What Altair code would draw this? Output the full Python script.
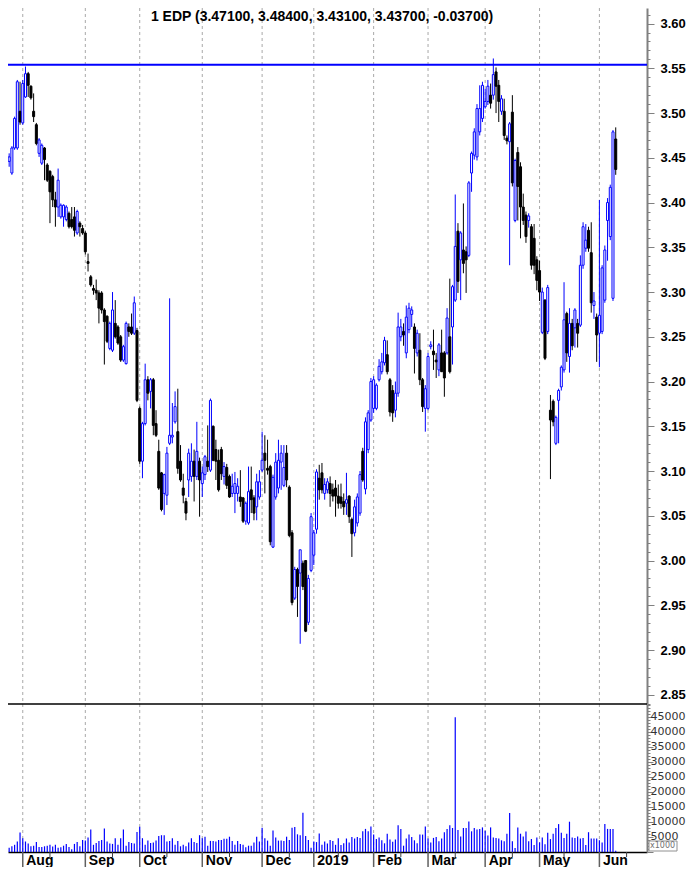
import altair as alt
import pandas as pd

# ---------------- data ----------------
opens = [
    # Jul 2018
    3.461, 3.448, 3.459, 3.446, 3.433, 3.461, 3.461, 3.502,
    # Aug
    3.489, 3.518, 3.544, 3.530, 3.502, 3.487, 3.455, 3.444, 3.461, 3.442, 3.435, 3.429,
    3.403, 3.395, 3.384, 3.384, 3.381, 3.388, 3.381, 3.384, 3.366, 3.377, 3.371,
    # Sep
    3.366, 3.334, 3.317, 3.304, 3.302, 3.299, 3.299, 3.280, 3.273, 3.237, 3.235, 3.265,
    3.261, 3.250, 3.224, 3.220, 3.261, 3.261, 3.254, 3.257,
    # Oct
    3.170, 3.111, 3.153, 3.202, 3.189, 3.202, 3.153, 3.122, 3.098, 3.075, 3.073, 3.131,
    3.138, 3.155, 3.144, 3.111, 3.081, 3.066, 3.090, 3.094, 3.111, 3.094, 3.111,
    # Nov
    3.086, 3.096, 3.111, 3.101, 3.150, 3.124, 3.112, 3.124, 3.094, 3.104, 3.094, 3.075,
    3.075, 3.075, 3.071, 3.070, 3.044, 3.042, 3.079, 3.070, 3.060, 3.071,
    # Dec
    3.101, 3.120, 3.103, 3.105, 3.015, 3.071, 3.081, 3.110, 3.084, 3.120, 3.082, 3.031,
    2.958, 2.990, 2.986, 2.997, 3.000, 2.931, 2.989,
    # Jan 2019
    3.006, 3.035, 3.092, 3.098, 3.075, 3.079, 3.086, 3.079, 3.081, 3.072, 3.071, 3.066,
    3.064, 3.072, 3.046, 3.031, 3.042, 3.053, 3.122, 3.080, 3.124, 3.157,
    # Feb
    3.170, 3.170, 3.202, 3.211, 3.221, 3.230, 3.202, 3.190, 3.168, 3.187, 3.250, 3.256,
    3.232, 3.258, 3.275, 3.261, 3.232, 3.235, 3.202, 3.170,
    # Mar
    3.170, 3.239, 3.234, 3.224, 3.213, 3.232, 3.232, 3.232, 3.250, 3.261, 3.291, 3.368,
    3.336, 3.347, 3.345, 3.341, 3.433, 3.453, 3.451, 3.479, 3.494,
    # Apr
    3.507, 3.513, 3.520, 3.520, 3.546, 3.531, 3.502, 3.502, 3.472, 3.468, 3.501, 3.380,
    3.456, 3.440, 3.395, 3.386, 3.380, 3.373, 3.360, 3.336,
    # May
    3.324, 3.255, 3.291, 3.256, 3.168, 3.178, 3.131, 3.179, 3.194, 3.213, 3.276, 3.228,
    3.265, 3.260, 3.265, 3.263, 3.330, 3.349, 3.369, 3.344, 3.285, 3.272,
    # Jun
    3.254, 3.256, 3.291, 3.380, 3.362, 3.293, 3.471,
]
highs = [
    3.464, 3.472, 3.463, 3.455, 3.463, 3.496, 3.537, 3.535,
    3.537, 3.552, 3.546, 3.531, 3.522, 3.489, 3.472, 3.466, 3.462, 3.444, 3.436, 3.431,
    3.412, 3.438, 3.399, 3.398, 3.397, 3.390, 3.395, 3.395, 3.392, 3.379, 3.375,
    3.368, 3.343, 3.319, 3.308, 3.314, 3.302, 3.301, 3.282, 3.274, 3.267, 3.300, 3.291,
    3.263, 3.252, 3.241, 3.267, 3.265, 3.276, 3.295, 3.260,
    3.172, 3.155, 3.220, 3.206, 3.204, 3.204, 3.168, 3.135, 3.099, 3.097, 3.127, 3.293,
    3.176, 3.189, 3.192, 3.129, 3.097, 3.070, 3.125, 3.131, 3.124, 3.155, 3.115,
    3.105, 3.118, 3.151, 3.181, 3.151, 3.135, 3.124, 3.127, 3.110, 3.108, 3.096, 3.097,
    3.099, 3.092, 3.101, 3.071, 3.066, 3.105, 3.105, 3.073, 3.097, 3.101,
    3.144, 3.140, 3.135, 3.107, 3.096, 3.120, 3.135, 3.129, 3.129, 3.129, 3.084, 3.034,
    2.993, 2.992, 3.012, 3.000, 3.000, 2.984, 3.053,
    3.034, 3.102, 3.107, 3.109, 3.092, 3.092, 3.094, 3.086, 3.090, 3.085, 3.086, 3.075,
    3.098, 3.073, 3.048, 3.068, 3.075, 3.100, 3.126, 3.160, 3.168, 3.204,
    3.206, 3.198, 3.225, 3.232, 3.250, 3.246, 3.204, 3.196, 3.200, 3.277, 3.270, 3.265,
    3.285, 3.288, 3.284, 3.265, 3.258, 3.254, 3.204, 3.196,
    3.232, 3.245, 3.258, 3.232, 3.243, 3.258, 3.234, 3.282, 3.315, 3.308, 3.409, 3.377,
    3.368, 3.399, 3.351, 3.424, 3.457, 3.483, 3.510, 3.531, 3.535,
    3.527, 3.537, 3.533, 3.561, 3.551, 3.537, 3.520, 3.516, 3.475, 3.490, 3.520, 3.449,
    3.462, 3.445, 3.410, 3.390, 3.388, 3.376, 3.376, 3.340,
    3.335, 3.305, 3.292, 3.308, 3.185, 3.180, 3.162, 3.192, 3.218, 3.311, 3.278, 3.282,
    3.270, 3.282, 3.270, 3.341, 3.378, 3.376, 3.373, 3.378, 3.300, 3.276,
    3.403, 3.330, 3.352, 3.405, 3.420, 3.481, 3.484,
]
lows = [
    3.410, 3.429, 3.423, 3.440, 3.431, 3.459, 3.459, 3.487,
    3.487, 3.517, 3.518, 3.515, 3.490, 3.464, 3.451, 3.442, 3.425, 3.423, 3.377, 3.395,
    3.373, 3.384, 3.382, 3.373, 3.379, 3.371, 3.371, 3.362, 3.364, 3.362, 3.364,
    3.342, 3.323, 3.306, 3.297, 3.291, 3.265, 3.276, 3.219, 3.243, 3.235, 3.233, 3.248,
    3.241, 3.222, 3.222, 3.219, 3.250, 3.252, 3.252, 3.177,
    3.108, 3.092, 3.151, 3.179, 3.170, 3.140, 3.138, 3.079, 3.055, 3.051, 3.062, 3.129,
    3.131, 3.153, 3.097, 3.088, 3.064, 3.045, 3.071, 3.088, 3.066, 3.090, 3.049,
    3.071, 3.090, 3.099, 3.099, 3.111, 3.090, 3.077, 3.090, 3.085, 3.080, 3.070, 3.071,
    3.053, 3.066, 3.060, 3.042, 3.040, 3.040, 3.053, 3.045, 3.045, 3.068,
    3.099, 3.075, 3.096, 3.017, 3.014, 3.068, 3.075, 3.079, 3.082, 3.082, 3.026, 2.950,
    2.956, 2.937, 2.907, 2.967, 2.920, 2.928, 2.987,
    2.995, 3.030, 3.068, 3.075, 3.068, 3.075, 3.060, 3.066, 3.049, 3.058, 3.058, 3.051,
    3.051, 3.042, 3.004, 3.027, 3.038, 3.050, 3.088, 3.074, 3.120, 3.155,
    3.165, 3.168, 3.200, 3.208, 3.218, 3.208, 3.161, 3.155, 3.160, 3.183, 3.245, 3.240,
    3.226, 3.254, 3.261, 3.209, 3.228, 3.196, 3.166, 3.144,
    3.168, 3.236, 3.213, 3.204, 3.206, 3.211, 3.183, 3.230, 3.209, 3.219, 3.289, 3.299,
    3.291, 3.321, 3.299, 3.339, 3.412, 3.448, 3.447, 3.475, 3.490,
    3.505, 3.509, 3.505, 3.515, 3.500, 3.490, 3.498, 3.470, 3.465, 3.330, 3.418, 3.378,
    3.380, 3.360, 3.375, 3.355, 3.372, 3.325, 3.320, 3.302,
    3.290, 3.253, 3.224, 3.253, 3.091, 3.150, 3.129, 3.131, 3.190, 3.210, 3.222, 3.210,
    3.235, 3.238, 3.238, 3.261, 3.326, 3.345, 3.345, 3.277, 3.270, 3.222,
    3.216, 3.253, 3.288, 3.335, 3.358, 3.290, 3.431,
]
closes = [
    3.436, 3.470, 3.436, 3.451, 3.461, 3.494, 3.535, 3.490,
    3.533, 3.544, 3.531, 3.517, 3.496, 3.466, 3.470, 3.464, 3.448, 3.425, 3.412, 3.403,
    3.395, 3.425, 3.397, 3.397, 3.395, 3.373, 3.373, 3.369, 3.390, 3.373, 3.366,
    3.345, 3.332, 3.308, 3.302, 3.299, 3.282, 3.280, 3.267, 3.245, 3.265, 3.280, 3.250,
    3.243, 3.224, 3.239, 3.265, 3.256, 3.254, 3.288, 3.179,
    3.111, 3.153, 3.202, 3.187, 3.202, 3.151, 3.140, 3.081, 3.057, 3.096, 3.120, 3.140,
    3.140, 3.172, 3.103, 3.090, 3.073, 3.053, 3.120, 3.111, 3.094, 3.122, 3.090,
    3.098, 3.116, 3.105, 3.179, 3.112, 3.111, 3.079, 3.097, 3.105, 3.084, 3.071, 3.083,
    3.086, 3.083, 3.066, 3.044, 3.064, 3.077, 3.068, 3.053, 3.088, 3.088,
    3.112, 3.112, 3.101, 3.021, 3.093, 3.110, 3.112, 3.120, 3.104, 3.090, 3.028, 2.953,
    2.990, 2.971, 3.012, 2.971, 2.921, 2.980, 3.049,
    3.031, 3.099, 3.079, 3.079, 3.085, 3.088, 3.075, 3.072, 3.072, 3.064, 3.064, 3.060,
    3.068, 3.049, 3.030, 3.060, 3.071, 3.096, 3.090, 3.155, 3.165, 3.200,
    3.202, 3.196, 3.217, 3.222, 3.246, 3.211, 3.166, 3.165, 3.187, 3.261, 3.261, 3.252,
    3.272, 3.282, 3.280, 3.237, 3.254, 3.202, 3.172, 3.192,
    3.228, 3.241, 3.230, 3.222, 3.241, 3.211, 3.204, 3.271, 3.211, 3.306, 3.351, 3.312,
    3.366, 3.332, 3.336, 3.422, 3.455, 3.479, 3.505, 3.505, 3.531,
    3.513, 3.530, 3.511, 3.543, 3.530, 3.513, 3.516, 3.475, 3.469, 3.488, 3.422, 3.447,
    3.418, 3.395, 3.380, 3.362, 3.385, 3.330, 3.330, 3.313,
    3.300, 3.300, 3.226, 3.305, 3.157, 3.155, 3.160, 3.190, 3.216, 3.269, 3.232, 3.265,
    3.240, 3.280, 3.254, 3.330, 3.373, 3.358, 3.349, 3.288, 3.290, 3.252,
    3.274, 3.327, 3.347, 3.400, 3.417, 3.479, 3.437,
]
# volume, in thousands (axis is "x1000")
volumes = [
    2400, 1100, 1900, 1400, 1900, 2400, 3500, 6500, 4600, 3500,
    2800, 1900, 2100, 3300, 1700, 1700, 1900, 2100, 2400, 1800,
    2400, 1400, 1600, 2100, 2700, 1700, 900, 2700, 3300, 1900,
    4000, 3800, 4800, 7500, 2400, 3000, 3700, 4000, 7800, 3500,
    2800, 2700, 4600, 2400, 4600, 7500, 2100, 3300, 3000, 2800,
    6700, 8400, 4600, 2400, 3800, 3000, 3200, 3800, 5300, 5600,
    5600, 3500, 3700, 4600, 2400, 3700, 1900, 2400, 1900, 3200,
    4600, 3300, 3000, 5600, 4600, 5100, 2100, 3700, 3700, 3500,
    4000, 4000, 4400, 4400, 5100, 3700, 2400, 3700, 2700, 2400,
    1600, 2100, 2100, 3200, 5100, 3500, 8100, 4600, 3800, 2100,
    7200, 4800, 3800, 3800, 3700, 5100, 4000, 8100, 8300, 5900,
    5600, 13100, 5300, 4000, 1400, 3500, 3300, 6200, 2400, 3500,
    2800, 4000, 3700, 2400, 4600,
    2300, 2900, 4500, 3200, 5000, 4500, 5000, 4700, 6900, 7700,
    6900, 8500, 5800, 4300, 4800, 3900, 2900, 6100, 4200, 3400,
    4200, 8900, 7700, 2100, 4500, 5800, 5000, 3900, 2900, 5800,
    5800, 8500, 4500, 3200, 4700, 5000, 3600, 4500, 6600, 7700,
    8900, 8000, 44900, 7300, 5200, 8000, 8000, 10200, 6900, 8000,
    7500, 7700, 8200, 7100, 5500, 8200, 4800, 4700, 4500, 3900,
    3600, 6100, 13000, 3600, 1300, 8200, 6100, 5200, 6800, 3600,
    4300, 2300, 4800, 3200, 4800, 2600, 6400, 4300, 6100, 8000,
    9300, 6400, 4700, 6100, 10100, 4800, 4700, 5200, 4500, 4700,
    2300, 6600, 4500, 4500, 4500, 3900, 3200, 9300, 7700, 7700,
    7700, 400,
]
title_text = "1 EDP (3.47100, 3.48400, 3.43100, 3.43700, -0.03700)"
resistance_level = 3.554
holidays = ["2018-12-25", "2018-12-26", "2019-01-01", "2019-04-19", "2019-04-22", "2019-05-01"]
first_day = "2018-07-20"
month_abbr = {1: "2019", 2: "Feb", 3: "Mar", 4: "Apr", 5: "May", 6: "Jun",
              7: "Jul", 8: "Aug", 9: "Sep", 10: "Oct", 11: "Nov", 12: "Dec"}

# ---------------- trading calendar ----------------
cal = pd.bdate_range(first_day, "2019-07-31")
cal = cal[~cal.isin(pd.to_datetime(holidays))]
n = min(len(opens), len(highs), len(lows), len(closes), len(volumes))

month_starts, month_labels, mid_ticks = [], [], []
for k in range(1, len(cal)):
    if cal[k].month != cal[k - 1].month and k <= 230:
        month_starts.append(k)
        month_labels.append(month_abbr[cal[k].month])
    if cal[k].day >= 15 and cal[k - 1].day < 15 and k <= 233:
        mid_ticks.append(k)

df = pd.DataFrame({
    "i": list(range(n)),
    "open": opens[:n], "high": highs[:n], "low": lows[:n], "close": closes[:n],
    "vol": volumes[:n],
})
df["dir"] = ["up" if c >= o else "down" for o, c in zip(df["open"], df["close"])]

# ---------------- geometry ----------------
W = 639          # plot width   (page x 8 .. 647)
H_PRICE = 696    # price panel  (page y 8 .. 704)
H_VOL = 148      # volume panel (page y 704 .. 852)
H = H_PRICE + H_VOL
FONT = "Liberation Sans"

xscale = alt.Scale(domain=[2.574, 237.5], nice=False, zero=False, padding=0)
pscale = alt.Scale(domain=[2.8397, 3.6174], range=[H_PRICE, 0], nice=False, zero=False, padding=0)
vscale = alt.Scale(domain=[0, 49333], range=[H, H_PRICE], nice=False, zero=False, padding=0)

label_expr = " : ".join(f"round(datum.value) == {v} ? '{l}'" for v, l in zip(month_starts, month_labels)) + " : ''"
x_axis = alt.Axis(values=month_starts, grid=False, title=None,
                  labels=True, labelExpr=label_expr, labelAlign="left", labelOffset=3,
                  labelBaseline="top", labelPadding=1, labelFont=FONT, labelFontSize=14,
                  labelFontWeight="bold", labelColor="#000000", labelFlush=False,
                  labelOverlap=False, ticks=False, domain=True, domainColor="#000000",
                  domainWidth=1.5)

price_ticks = [round(2.84 + 0.01 * k, 2) for k in range(78)]
major_test = "abs(datum.value * 20 - round(datum.value * 20)) < 0.01"
p_axis = alt.Axis(orient="right", values=price_ticks, title=None, grid=False,
                  labelExpr=f"{major_test} ? format(datum.value, '.2f') : ''",
                  tickSize={"condition": {"test": major_test, "value": 7}, "value": 3},
                  tickColor="#808080", tickWidth=1, domainColor="#808080", domainWidth=2,
                  labelFont=FONT, labelFontSize=13, labelFontWeight="bold",
                  labelColor="#000000", labelPadding=6, labelOverlap=False, labelFlush=False)

vol_ticks = list(range(0, 49001, 1000))
vmajor = "datum.value % 5000 == 0"
v_axis = alt.Axis(orient="right", values=vol_ticks, title=None, grid=False,
                  labelExpr=f"{vmajor} && datum.value > 0 ? format(datum.value, 'd') : ''",
                  tickSize={"condition": {"test": vmajor, "value": 6}, "value": 3},
                  tickColor="#808080", tickWidth=1, domainColor="#808080", domainWidth=2,
                  labelFont="DejaVu Sans", labelFontSize=11, labelColor="#333333",
                  labelPadding=-3, labelOverlap=False, labelFlush=False)

dir_scale_col = alt.Scale(domain=["up", "down"], range=["#0000ff", "#000000"])
dir_scale_fill = alt.Scale(domain=["up", "down"], range=["#ffffff", "#000000"])
X = alt.X("i:Q", scale=xscale, axis=x_axis)

# ---------------- month grid (dashed, full height) ----------------
grid_lines = alt.Chart(pd.DataFrame({"i": month_starts})).mark_rule(
    color="#a8a8a8", strokeWidth=1, strokeDash=[3, 3]
).encode(x=X, y=alt.value(0), y2=alt.value(H))

# ---------------- price layers ----------------
base = alt.Chart(df)
wicks = base.mark_rule(strokeWidth=1, clip=True).encode(
    x=X, y=alt.Y("low:Q", scale=pscale, axis=p_axis), y2="high:Q",
    color=alt.Color("dir:N", scale=dir_scale_col, legend=None),
)
bodies = base.mark_bar(size=2, strokeWidth=1, clip=True).encode(
    x=X, y=alt.Y("open:Q", scale=pscale, axis=p_axis), y2="close:Q",
    fill=alt.Fill("dir:N", scale=dir_scale_fill, legend=None),
    stroke=alt.Stroke("dir:N", scale=dir_scale_col, legend=None),
)
res_line = alt.Chart(pd.DataFrame({"level": [resistance_level]})).mark_rule(
    color="#0000ff", strokeWidth=2
).encode(y=alt.Y("level:Q", scale=pscale, axis=p_axis), x=alt.value(0), x2=alt.value(W))
price_layer = alt.layer(wicks, bodies, res_line)

# ---------------- volume layers ----------------
vol_bars = base.mark_bar(size=1.2, color="#0000ff", clip=True).encode(
    x=X, y=alt.Y("vol:Q", scale=vscale, axis=v_axis),
)
vol_layer = alt.layer(vol_bars)

# ---------------- decorations (pixel positioned) ----------------
one = pd.DataFrame({"t": [title_text]})
title_mark = alt.Chart(one).mark_text(
    font=FONT, fontSize=14, fontWeight="bold", color="#000000", align="center", baseline="top"
).encode(text="t:N", x=alt.value(314), y=alt.value(1.5))
separator = alt.Chart(one).mark_rule(color="#000000", strokeWidth=1.5).encode(
    x=alt.value(0), x2=alt.value(W), y=alt.value(H_PRICE))
month_tick_marks = alt.Chart(pd.DataFrame({"i": month_starts})).mark_rule(
    color="#606060", strokeWidth=1.5
).encode(x=X, y=alt.value(H), y2=alt.value(H + 15))
mid_tick_marks = alt.Chart(pd.DataFrame({"i": mid_ticks})).mark_rule(
    color="#404040", strokeWidth=1
).encode(x=X, y=alt.value(H), y2=alt.value(H + 5))
unit_box = alt.Chart(one).mark_rect(
    fill="#ffffff", stroke="#909090", strokeWidth=1
).encode(x=alt.value(W + 2), x2=alt.value(W + 30), y=alt.value(H - 11), y2=alt.value(H - 1))
unit_text = alt.Chart(pd.DataFrame({"u": ["x1000"]})).mark_text(
    font="DejaVu Sans", fontSize=8, color="#707070", align="left", baseline="middle"
).encode(text="u:N", x=alt.value(W + 3), y=alt.value(H - 6))

chart = alt.layer(
    grid_lines, price_layer, vol_layer, title_mark, separator, month_tick_marks,
    mid_tick_marks, unit_box, unit_text,
).resolve_scale(y="independent").resolve_axis(y="independent").properties(
    width=W, height=H,
    autosize=alt.AutoSizeParams(type="none"),
    padding={"left": 0, "top": 0, "right": 39, "bottom": 15},
    background="#ffffff",
).configure_view(stroke=None)

chart.save("out.html", embed_options={"renderer": "svg", "actions": False})
